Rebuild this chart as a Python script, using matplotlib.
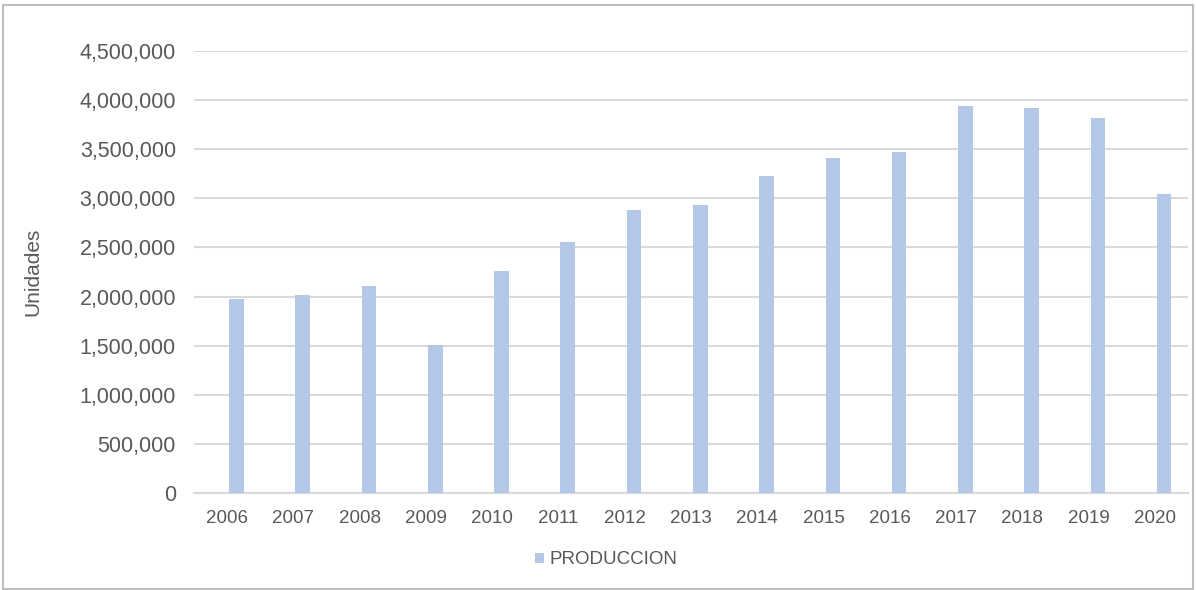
import matplotlib
matplotlib.use("Agg")
import matplotlib.pyplot as plt
from matplotlib.patches import Rectangle
from matplotlib.ticker import FuncFormatter
import numpy as np

years = ["2006", "2007", "2008", "2009", "2010", "2011", "2012", "2013",
         "2014", "2015", "2016", "2017", "2018", "2019", "2020"]
produccion = [1975000, 2020000, 2105000, 1505000, 2265000, 2555000, 2885000,
              2933000, 3225000, 3408000, 3472000, 3935000, 3922000, 3815000, 3042000]

plt.rcParams['font.family'] = ['Liberation Sans', 'DejaVu Sans']
text_color = "#595959"
bar_color = "#B4C7E7"
grid_color = "#D9D9D9"

fig = plt.figure(figsize=(11.96, 5.90), dpi=100)
ax = fig.add_axes([194/1196, 1-493/590, (1188-194)/1196, (493-51)/590])

x = np.arange(len(years))
ax.bar(x + 0.14, produccion, width=0.22, color=bar_color, zorder=3,
       label="PRODUCCION")

ax.set_xlim(-0.5, len(years) - 0.5)
ax.set_ylim(0, 4500000)
ax.set_yticks(np.arange(0, 4500001, 500000))
ax.yaxis.set_major_formatter(FuncFormatter(lambda v, p: f"{int(v):,}"))
ax.set_xticks(x)
ax.set_xticklabels(years)

ax.grid(axis='y', color=grid_color, linewidth=1.5, zorder=0)
for s in ['top', 'right', 'left']:
    ax.spines[s].set_visible(False)
ax.spines['bottom'].set_color(grid_color)
ax.spines['bottom'].set_linewidth(1.5)
ax.tick_params(axis='both', length=0, colors=text_color)
ax.tick_params(axis='y', labelsize=15.5, pad=13)
ax.tick_params(axis='x', labelsize=13.5, pad=12)

ax.set_ylabel("Unidades", fontsize=15, color=text_color)
ax.yaxis.set_label_coords(-(194-42)/994, 0.5)

leg = fig.legend(loc='center', bbox_to_anchor=(606/1196, 1-560/590),
                 frameon=False, fontsize=13.5, handlelength=0.5, handleheight=0.5,
                 handletextpad=0.3)
for t in leg.get_texts():
    t.set_color(text_color)

fig.patches.append(Rectangle((3/1196, 1/590), 1190/1196, 584/590,
                             transform=fig.transFigure, fill=False,
                             edgecolor="#BFBFBF", linewidth=1.5))

fig.savefig("out.png", dpi=100)
